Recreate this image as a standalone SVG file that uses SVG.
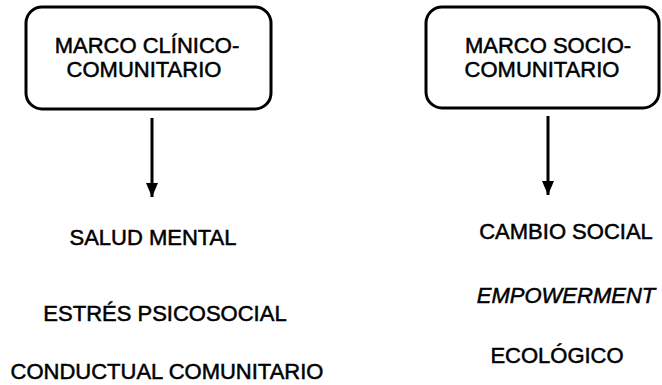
<svg xmlns="http://www.w3.org/2000/svg" width="662" height="385" viewBox="0 0 662 385">
<style>
.box{fill:#fff;stroke:#000;stroke-width:3}
.t{font-family:"Liberation Sans",Arial,sans-serif;font-size:22px;fill:#000;stroke:#000;stroke-width:0.5;text-anchor:middle}
.it{font-style:italic}
.c{stroke:#000;stroke-width:3;fill:none}
</style>
<defs>
<marker id="ah" viewBox="0 0 14 12" refX="14" refY="6" markerWidth="14" markerHeight="12" markerUnits="userSpaceOnUse" orient="auto">
<path d="M0,0 L14,6 L0,12 Z" fill="#000"/>
</marker>
</defs>
<rect width="662" height="385" fill="#fff"/>
<g id="n1">
<rect class="box" x="26" y="7" width="245" height="102" rx="16"/>
<text class="t" x="147" y="53">MARCO CLÍNICO-</text>
<text class="t" x="144" y="77">COMUNITARIO</text>
</g>
<g id="n2">
<rect class="box" x="426" y="7" width="233" height="101" rx="16"/>
<text class="t" x="548" y="53">MARCO SOCIO-</text>
<text class="t" x="542" y="77">COMUNITARIO</text>
</g>
<g id="connectors">
<line x1="152" y1="118" x2="152" y2="197" class="c" marker-end="url(#ah)"/>
<line x1="548" y1="116" x2="548" y2="195" class="c" marker-end="url(#ah)"/>
</g>
<g id="left-items">
<text class="t" x="153" y="245">SALUD MENTAL</text>
<text class="t" x="165" y="321">ESTRÉS PSICOSOCIAL</text>
<text class="t" x="167" y="379">CONDUCTUAL COMUNITARIO</text>
</g>
<g id="right-items">
<text class="t" x="566" y="239">CAMBIO SOCIAL</text>
<text class="t it" x="566" y="303">EMPOWERMENT</text>
<text class="t" x="557" y="363">ECOLÓGICO</text>
</g>
</svg>
